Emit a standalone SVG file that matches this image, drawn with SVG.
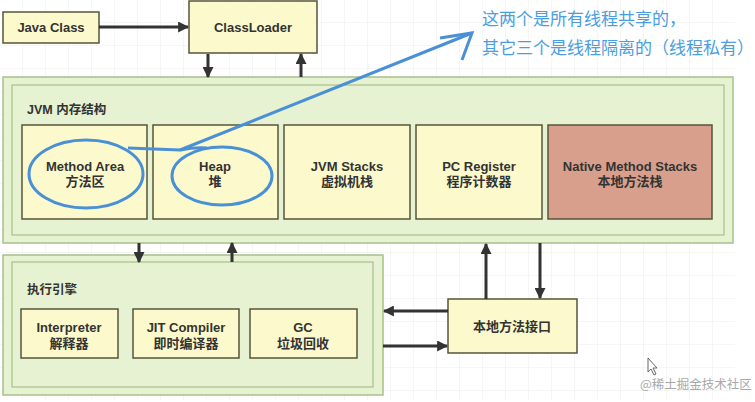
<svg xmlns="http://www.w3.org/2000/svg" width="755" height="402" viewBox="0 0 755 402">
<defs>
<pattern id="grid" width="23" height="23" patternUnits="userSpaceOnUse">
<path d="M23 0V23M0 23H23" fill="none" stroke="#ececec" stroke-width="1"/>
</pattern>
<marker id="ah" viewBox="0 0 10 10" refX="9" refY="5" markerWidth="11" markerHeight="11" markerUnits="userSpaceOnUse" orient="auto">
<path d="M0,0 L10,5 L0,10 z" fill="#333"/>
</marker>
</defs>
<style>
.box{fill:#fcf9cc;stroke:#55553a;stroke-width:1.5}
.outer{fill:#e7f2d2;stroke:#a8c08c;stroke-width:1.5}
.inner{fill:#e7f2d2;stroke:#a8c08c;stroke-width:1.2}
.native{fill:#d8a08c;stroke:#55553a;stroke-width:1.5}
.t{font-family:"Liberation Sans","Noto Sans CJK SC",sans-serif;font-size:13px;font-weight:bold;fill:#333;text-anchor:middle}
.lbl{font-family:"Liberation Sans","Noto Sans CJK SC",sans-serif;font-size:12.5px;font-weight:bold;fill:#333}
.conn{stroke:#333;stroke-width:3;fill:none}
.blue{stroke:#4a90d6;stroke-width:3;fill:none}
.note{font-family:"Noto Sans CJK SC",sans-serif;font-size:17px;fill:#4a9ee0}
</style>
<rect width="755" height="402" fill="#ffffff"/>
<rect x="0" y="0" width="735" height="400" fill="url(#grid)"/>

<g id="java-class"><rect class="box" x="3" y="12" width="96" height="31"/><text class="t" x="51" y="32">Java Class</text></g>
<g id="classloader"><rect class="box" x="189" y="1" width="128" height="52"/><text class="t" x="253" y="32">ClassLoader</text></g>

<g id="jvm-memory">
<rect class="outer" x="3" y="77" width="730" height="166"/>
<rect class="inner" x="12" y="85" width="712" height="150"/>
<text class="lbl" x="27" y="114">JVM 内存结构</text>
</g>
<g id="method-area"><rect class="box" x="22" y="125" width="125" height="94"/><text class="t" x="85" y="171">Method Area</text><text class="t" x="85" y="186">方法区</text></g>
<g id="heap"><rect class="box" x="153" y="125" width="125" height="94"/><text class="t" x="215" y="171">Heap</text><text class="t" x="215" y="186">堆</text></g>
<g id="jvm-stacks"><rect class="box" x="284" y="125" width="126" height="94"/><text class="t" x="347" y="171">JVM Stacks</text><text class="t" x="347" y="186">虚拟机栈</text></g>
<g id="pc-register"><rect class="box" x="416" y="125" width="126" height="94"/><text class="t" x="479" y="171">PC Register</text><text class="t" x="479" y="186">程序计数器</text></g>
<g id="native-stacks"><rect class="native" x="548" y="125" width="164" height="94"/><text class="t" x="630" y="171">Native Method Stacks</text><text class="t" x="630" y="186">本地方法栈</text></g>

<g id="exec-engine">
<rect class="outer" x="3" y="255" width="380" height="140"/>
<rect class="inner" x="12" y="262" width="361" height="125"/>
<text class="lbl" x="27" y="294">执行引擎</text>
</g>
<g id="interpreter"><rect class="box" x="21" y="309" width="97" height="49"/><text class="t" x="69" y="332">Interpreter</text><text class="t" x="69" y="348">解释器</text></g>
<g id="jit"><rect class="box" x="133" y="309" width="106" height="49"/><text class="t" x="186" y="332">JIT Compiler</text><text class="t" x="186" y="348">即时编译器</text></g>
<g id="gc"><rect class="box" x="250" y="309" width="107" height="49"/><text class="t" x="303" y="332">GC</text><text class="t" x="303" y="348">垃圾回收</text></g>

<g id="native-interface"><rect class="box" x="448" y="299" width="129" height="54"/><text class="t" x="512" y="331">本地方法接口</text></g>

<g id="connectors">
<line class="conn" x1="99" y1="27" x2="188" y2="27" marker-end="url(#ah)"/>
<line class="conn" x1="208" y1="54" x2="208" y2="77" marker-end="url(#ah)"/>
<line class="conn" x1="301" y1="77" x2="301" y2="54" marker-end="url(#ah)"/>
<line class="conn" x1="139" y1="243" x2="139" y2="262" marker-end="url(#ah)"/>
<line class="conn" x1="232" y1="262" x2="232" y2="243" marker-end="url(#ah)"/>
<line class="conn" x1="486" y1="299" x2="486" y2="244" marker-end="url(#ah)"/>
<line class="conn" x1="540" y1="243" x2="540" y2="298" marker-end="url(#ah)"/>
<line class="conn" x1="448" y1="311" x2="384" y2="311" marker-end="url(#ah)"/>
<line class="conn" x1="383" y1="346" x2="447" y2="346" marker-end="url(#ah)"/>
</g>

<g id="annotation">
<ellipse class="blue" cx="86" cy="174" rx="57" ry="34"/>
<ellipse class="blue" cx="222" cy="176" rx="50" ry="29"/>
<path class="blue" d="M128,148 L180,150 Q195,147 207,148"/>
<path class="blue" d="M180,150 L472,33"/>
<path class="blue" d="M440,38 L472,33 L462,60"/>
<text class="note" x="482" y="25">这两个是所有线程共享的，</text>
<text class="note" x="482" y="54">其它三个是线程隔离的（线程私有）</text>
</g>

<path d="M648,358 L648,372 L651,369 L654,375 L656,374 L653,368 L657,368 Z" fill="#fff" stroke="#666" stroke-width="1"/>
<text x="640" y="389" font-family="Noto Sans CJK SC,sans-serif" font-size="12.5" fill="#a8a8a8">@稀土掘金技术社区</text>
</svg>
